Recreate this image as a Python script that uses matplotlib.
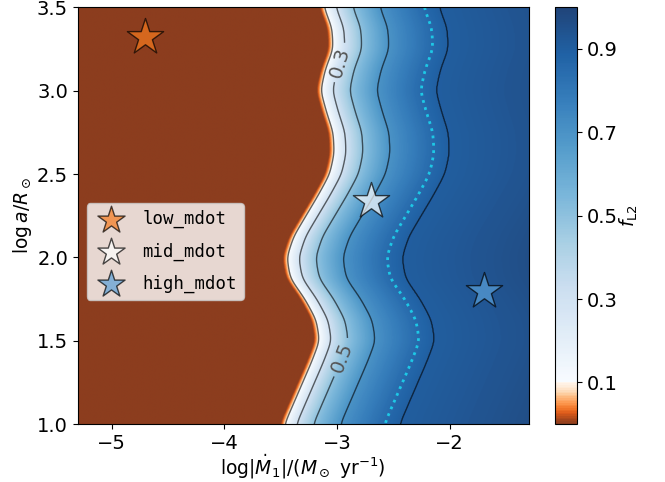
import numpy as np
import matplotlib
matplotlib.use('Agg')
import matplotlib.pyplot as plt
from matplotlib.colors import ListedColormap

# rows in log a and where the brown (f_L2 = 0) region ends
y_rows = [3.5, 3.375, 3.25, 3.125, 3.0, 2.875, 2.75, 2.625, 2.5, 2.375, 2.25,
          2.125, 2.0, 1.875, 1.75, 1.625, 1.5, 1.375, 1.25, 1.125, 1.0]
edge_x = [-3.15, -3.08, -3.07, -3.14, -3.18, -3.13, -3.07, -3.06, -3.10, -3.20, -3.31,
          -3.42, -3.48, -3.45, -3.32, -3.22, -3.19, -3.26, -3.34, -3.42, -3.50]

# f_L2 across the edge: distance to the right of the edge (dex) -> value
prof_dx = [-0.01, 0.035, 0.14, 0.29, 0.53, 0.92, 1.055, 2.3]
prof_f = [0.0, 0.1, 0.3, 0.5, 0.7, 0.86, 0.9, 0.97]

plain_levels = [0.1, 0.7, 0.9]
label_levels = [0.3, 0.5]
label_pos = [(-2.98, 3.17), (-2.96, 1.40)]
dotted_level = 0.86
cb_ticks = [0.1, 0.3, 0.5, 0.7, 0.9]

names = ['low_mdot', 'mid_mdot', 'high_mdot']
star_x = [-4.7, -2.7, -1.7]
star_y = [3.32, 2.34, 1.8]
star_c = ['#f57a1e', '#ffffff', '#5a9fd8']

# grid
xs = np.linspace(-5.3, -1.3, 600)
ys = np.linspace(1.0, 3.5, 500)
edge_f = np.interp(ys, y_rows[::-1], edge_x[::-1])
# smooth the kinks between read rows
sig = 0.03 / (ys[1] - ys[0])
k = np.arange(-int(4 * sig), int(4 * sig) + 1)
ker = np.exp(-0.5 * (k / sig) ** 2)
ker /= ker.sum()
pad = len(k) // 2
edge_f = np.convolve(np.pad(edge_f, pad, mode='edge'), ker, mode='valid')

X, Y = np.meshgrid(xs, ys)
F = np.interp(X - edge_f[:, None], prof_dx, prof_f)

lo = plt.get_cmap('Oranges_r')(np.linspace(0, 1, 26))
hi = plt.get_cmap('Blues')(np.linspace(0, 1, 230))
cmap = ListedColormap(np.vstack([lo, hi]))

fig = plt.figure(figsize=(6.65, 4.82), dpi=100)
ax = fig.add_axes([0.117, 0.12, 0.678, 0.865])
cax = fig.add_axes([0.835, 0.12, 0.033, 0.865])

im = ax.imshow(F, extent=[xs[0], xs[-1], ys[0], ys[-1]], origin='lower',
               cmap=cmap, vmin=0, vmax=1, alpha=0.9, aspect='auto',
               interpolation='bilinear')
ax.contour(X, Y, F, levels=plain_levels, colors='k', alpha=0.6, linewidths=1.0)
for lev, pos in zip(label_levels, label_pos):
    cs = ax.contour(X, Y, F, levels=[lev], colors='k', alpha=0.6, linewidths=1.0)
    txts = ax.clabel(cs, manual=[pos], inline=True, fontsize=14, fmt='%.1f',
                     colors='0.33')
    for t in txts:
        t.set_alpha(1)
ax.contour(X, Y, F, levels=[dotted_level], colors='#1ec8e6',
           linestyles=':', linewidths=2.0)

for i in range(len(names)):
    ax.scatter(star_x[i], star_y[i], marker='*', s=750, c=star_c[i],
               edgecolors='k', linewidths=1, alpha=0.7, label=names[i], zorder=3)

ax.set_xlim(-5.3, -1.3)
ax.set_ylim(1.0, 3.5)
ax.set_xticks([-5, -4, -3, -2])
ax.set_yticks([1.0, 1.5, 2.0, 2.5, 3.0, 3.5])
ax.set_yticklabels(['1.0', '1.5', '2.0', '2.5', '3.0', '3.5'])
ax.tick_params(labelsize=14)
ax.set_xlabel(r'$\log|\dot{M}_1|/(M_\odot\ {\rm yr}^{-1})$', fontsize=13.5, labelpad=0)
ax.set_ylabel(r'$\log a/R_\odot$', fontsize=13.5, labelpad=2)

ax.legend(loc='upper left', bbox_to_anchor=(0.02, 0.53), borderaxespad=0,
          prop={'family': 'DejaVu Sans Mono', 'size': 12.5}, markerscale=0.75,
          labelspacing=0.8)

cb = fig.colorbar(im, cax=cax, ticks=cb_ticks)
cb.ax.tick_params(labelsize=14)
cb.set_label(r'$f_{\rm L2}$', fontsize=13.5, labelpad=0)

fig.savefig('out.png', dpi=100)
